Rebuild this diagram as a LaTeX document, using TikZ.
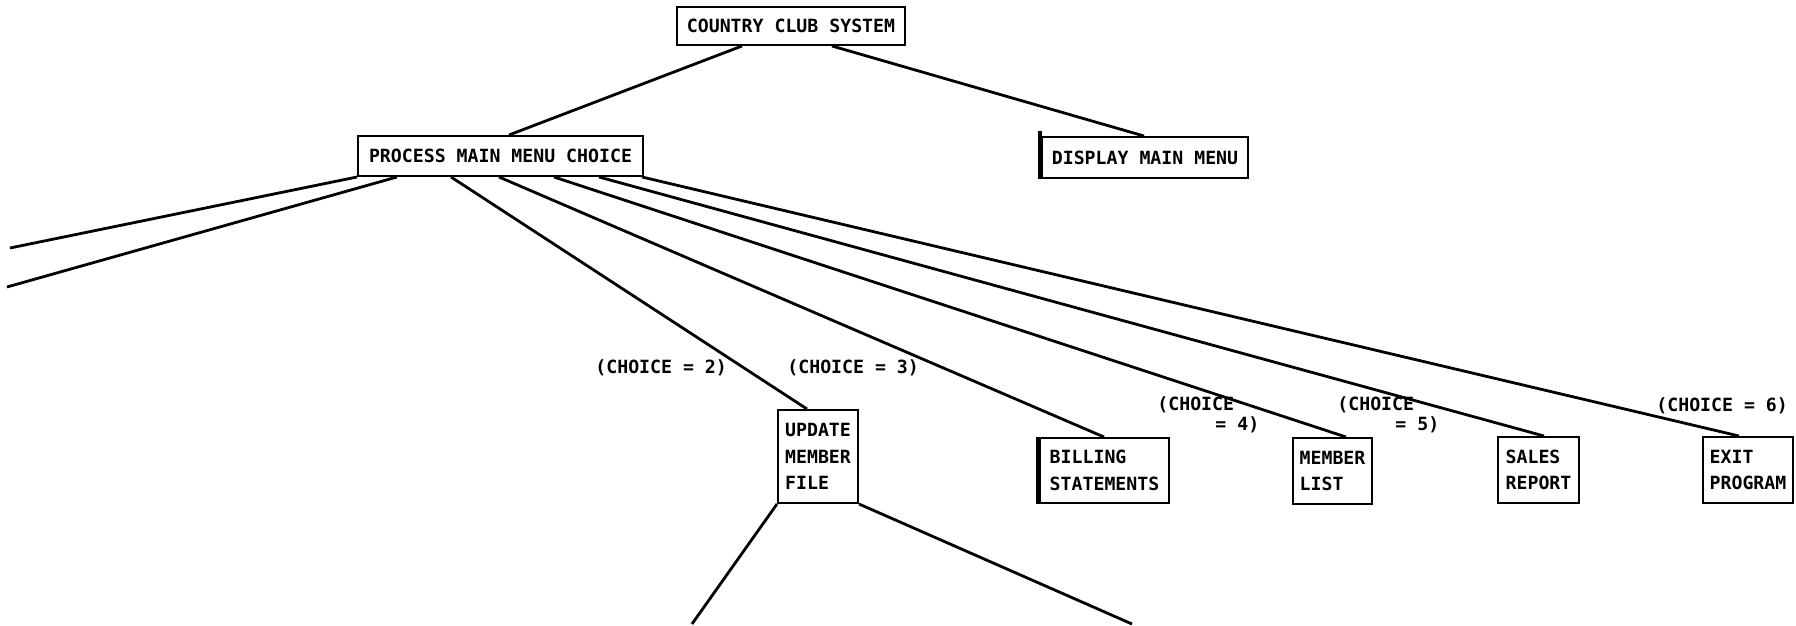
\documentclass[tikz,border=0pt]{standalone}
\usepackage{fontspec}
\newfontfamily\plotfont{DejaVu Sans Mono}
\usetikzlibrary{calc}
\begin{document}
\begin{tikzpicture}[x=0.5pt,y=-0.5pt,
  box/.style={draw, line width=1pt, inner sep=0pt, align=left,
    font=\plotfont\bfseries\fontsize{9.1}{13.3}\selectfont},
  lbl/.style={inner sep=0pt, anchor=west, font=\plotfont\bfseries\fontsize{9.1}{11}\selectfont},
  link/.style={line width=1.4pt},
  thickedge/.style={line width=1.8pt}]
\fill[white] (0,0) rectangle (1796,626);
\useasboundingbox (0,0) rectangle (1796,626);

% nodes
\node[box, minimum width=114pt, minimum height=19pt] (ccs) at (791,26) {COUNTRY CLUB SYSTEM};
\node[box, minimum width=142.5pt, minimum height=20pt] (pmmc) at (500.5,156) {PROCESS MAIN MENU CHOICE};
\node[box, minimum width=103pt, minimum height=20.5pt] (dmm) at (1145,157.5) {DISPLAY MAIN MENU};
\node[box, minimum width=40pt, minimum height=46.5pt] (umf) at (818,456.5) {UPDATE\\MEMBER\\FILE};
\node[box, minimum width=64.5pt, minimum height=32.5pt] (bill) at (1104.5,470.5) {BILLING\\STATEMENTS};
\node[box, minimum width=39.5pt, minimum height=33pt] (ml) at (1332.5,471) {MEMBER\\LIST};
\node[box, minimum width=40.5pt, minimum height=33pt] (sr) at (1538.5,470) {SALES\\REPORT};
\node[box, minimum width=45pt, minimum height=33pt] (ep) at (1748,470) {EXIT\\PROGRAM};

% thick left edges
\draw[thickedge] ($(dmm.north west)+(-1,-5)$) -- ($(dmm.south west)+(-1,0)$);
\draw[thickedge] ($(bill.north west)+(-1,0)$) -- ($(bill.south west)+(-1,0)$);

% labels
\node[lbl] (c2) at (595,368) {(CHOICE = 2)};
\node[lbl] (c3) at (787,368) {(CHOICE = 3)};
\node[lbl] (c4a) at (1157,405) {(CHOICE};
\node[lbl] (c4b) at (1215,425) {= 4)};
\node[lbl] (c5a) at (1337,405) {(CHOICE};
\node[lbl] (c5b) at (1395,425) {= 5)};
\node[lbl] (c6) at (1656,406) {(CHOICE = 6)};

% free ends
\coordinate (l1) at (10,248);
\coordinate (l2) at (7,287);
\coordinate (d1) at (692,624);
\coordinate (d2) at (1132,624);

% connectors
\draw[link] ($(ccs.south west)+(66,0)$) -- ($(pmmc.north west)+(152,0)$);
\draw[link] ($(ccs.south west)+(156,0)$) -- ($(dmm.north west)+(103,0)$);
\draw[link] (pmmc.south west) -- (l1);
\draw[link] ($(pmmc.south west)+(40,0)$) -- (l2);
\draw[link] ($(pmmc.south west)+(94,0)$) -- ($(umf.north west)+(30,0)$);
\draw[link] ($(pmmc.south west)+(142,0)$) -- ($(bill.north west)+(65,0)$);
\draw[link] ($(pmmc.south west)+(197,0)$) -- ($(ml.north west)+(54,0)$);
\draw[link] ($(pmmc.south west)+(242,0)$) -- ($(sr.north west)+(47,0)$);
\draw[link] ($(pmmc.south east)+(-2,0)$) -- ($(ep.north west)+(37,0)$);
\draw[link] (umf.south west) -- (d1);
\draw[link] (umf.south east) -- (d2);
\end{tikzpicture}
\end{document}
